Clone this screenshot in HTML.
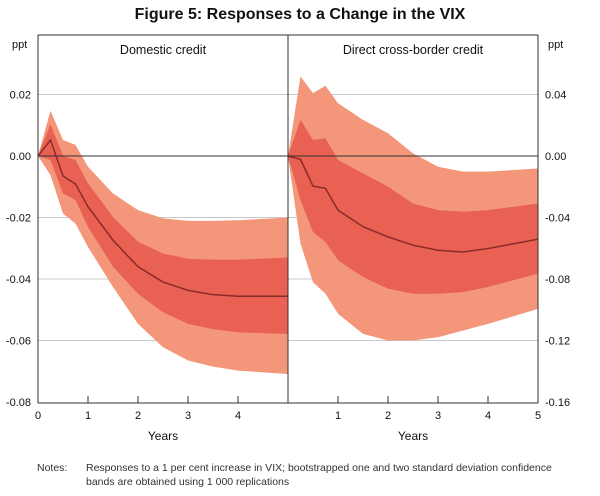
<!DOCTYPE html>
<html><head><meta charset="utf-8"><style>
body{margin:0;background:#fff;font-family:"Liberation Sans",sans-serif;}
svg text{font-family:"Liberation Sans",sans-serif;}
</style></head><body>
<svg width="600" height="491">
<text x="300" y="19" text-anchor="middle" font-size="16" font-weight="bold" fill="#111">Figure 5: Responses to a Change in the VIX</text>
<g id="plots"></g>
<text x="163" y="440" text-anchor="middle" font-size="12" fill="#111">Years</text>
<text x="413" y="440" text-anchor="middle" font-size="12" fill="#111">Years</text>
<text x="12" y="48" font-size="11" fill="#111">ppt</text>
<text x="548" y="48" font-size="11" fill="#111">ppt</text>
<text x="37" y="471" font-size="10.5" fill="#333">Notes:</text>
<text x="86" y="471" font-size="10.5" fill="#333">Responses to a 1 per cent increase in VIX; bootstrapped one and two standard deviation confidence</text>
<text x="86" y="485" font-size="10.5" fill="#333">bands are obtained using 1 000 replications</text>
</svg>
<script>
const xYears=[0,0.25,0.5,0.75,1,1.5,2,2.5,3,3.5,4,5];
const domMean=[0,0.0052,-0.0065,-0.0091,-0.0165,-0.0274,-0.036,-0.041,-0.0437,-0.0451,-0.0456,-0.0456];
const domUp2=[0,0.0147,0.0052,0.0036,-0.0035,-0.0122,-0.0176,-0.0203,-0.0211,-0.0211,-0.0209,-0.02];
const domUp1=[0,0.0104,0,-0.0013,-0.0089,-0.0198,-0.0279,-0.0317,-0.0334,-0.0337,-0.0337,-0.033];
const domLo1=[0,-0.0013,-0.0122,-0.0143,-0.0231,-0.036,-0.0448,-0.0508,-0.0546,-0.0563,-0.0573,-0.0579];
const domLo2=[0,-0.0062,-0.0187,-0.022,-0.0296,-0.0426,-0.0546,-0.0622,-0.0665,-0.0685,-0.0698,-0.0709];
const crossMean=[0,-0.0022,-0.0196,-0.0211,-0.0352,-0.046,-0.0526,-0.058,-0.0613,-0.0624,-0.0602,-0.0541];
const crossUp2=[0,0.0517,0.0409,0.0457,0.0343,0.0235,0.0148,0.0017,-0.007,-0.0102,-0.0102,-0.0081];
const crossUp1=[0,0.0235,0.0104,0.0115,-0.0026,-0.0113,-0.02,-0.0309,-0.0352,-0.0363,-0.0352,-0.0309];
const crossLo1=[0,-0.0287,-0.0494,-0.056,-0.0678,-0.0787,-0.0863,-0.0896,-0.0896,-0.0885,-0.0852,-0.0765];
const crossLo2=[0,-0.057,-0.082,-0.0896,-0.1026,-0.1157,-0.12,-0.12,-0.1179,-0.1135,-0.1092,-0.0994];
const leftTicks=[0.02,0,-0.02,-0.04,-0.06,-0.08];
const rightTicks=[0.04,0,-0.04,-0.08,-0.12,-0.16];
const leftXTicks=[0,1,2,3,4];
const rightXTicks=[1,2,3,4,5];

const NS="http://www.w3.org/2000/svg";
const g=document.getElementById('plots');
const T=35,B=403,L=38,M=288,R=538;
const yL=v=>156-v/0.02*61.5;
const yR=v=>156-v/0.04*61.5;
const xL=t=>L+t*50;
const xR=t=>M+t*50;
function mk(tag,a){const e=document.createElementNS(NS,tag);for(const k in a)e.setAttribute(k,a[k]);g.appendChild(e);return e;}
// gridlines
leftTicks.forEach(v=>{if(v!==0&&v>-0.08){const e=mk('line',{x1:L,x2:M,y1:yL(v),y2:yL(v),stroke:'#c8c8c8','stroke-width':1});

}});
rightTicks.forEach(v=>{if(v!==0&&v>-0.16){const e=mk('line',{x1:M,x2:R,y1:yR(v),y2:yR(v),stroke:'#c8c8c8','stroke-width':1});

}});
function band(up,lo,xf,yf,col,name){
  let d='M'+xYears.map((t,i)=>xf(t)+','+yf(up[i])).join('L');
  for(let i=xYears.length-1;i>=0;i--)d+='L'+xf(xYears[i])+','+yf(lo[i]);
  const e=mk('path',{d:d+'Z',fill:col});
  
  
}
function line(v,xf,yf,name){
  const e=mk('path',{d:'M'+xYears.map((t,i)=>xf(t)+','+yf(v[i])).join('L'),fill:'none',stroke:'#8a2b2b','stroke-width':1.5});
  
  
}
band(domUp2,domLo2,xL,yL,'#f4967a','domestic-two-sd-band');
band(domUp1,domLo1,xL,yL,'#e86152','domestic-one-sd-band');
line(domMean,xL,yL,'domestic-response-line');
band(crossUp2,crossLo2,xR,yR,'#f4967a','cross-border-two-sd-band');
band(crossUp1,crossLo1,xR,yR,'#e86152','cross-border-one-sd-band');
line(crossMean,xR,yR,'cross-border-response-line');
// zero line
let z=mk('line',{x1:L,x2:R,y1:156,y2:156,stroke:'#333','stroke-width':1});


// frame
let f=mk('rect',{x:L,y:T,width:R-L,height:B-T,fill:'none',stroke:'#333','stroke-width':1});


let dv=mk('line',{x1:M,x2:M,y1:T,y2:B,stroke:'#333','stroke-width':1});


function txt(x,y,s,anchor,size,name){const e=mk('text',{x:x,y:y,'text-anchor':anchor,'font-size':size,fill:'#111'});e.textContent=s;

return e;}
txt(163,54,'Domestic credit','middle',12.5,'panel-title-left');
txt(413,54,'Direct cross-border credit','middle',12.5,'panel-title-right');
leftTicks.forEach(v=>txt(31,yL(v)+4,v.toFixed(2),'end',11,'y-tick-left'));
rightTicks.forEach(v=>txt(545,yR(v)+4,v.toFixed(2),'start',11,'y-tick-right'));
leftXTicks.forEach(t=>{if(t>0){const e=mk('line',{x1:xL(t),x2:xL(t),y1:B,y2:B-7,stroke:'#333'});

}
txt(xL(t),419,String(t),'middle',11,'x-tick-left');});
rightXTicks.forEach(t=>{if(t<5){const e=mk('line',{x1:xR(t),x2:xR(t),y1:B,y2:B-7,stroke:'#333'});

}
txt(xR(t),419,String(t),'middle',11,'x-tick-right');});
</script>
</body></html>
